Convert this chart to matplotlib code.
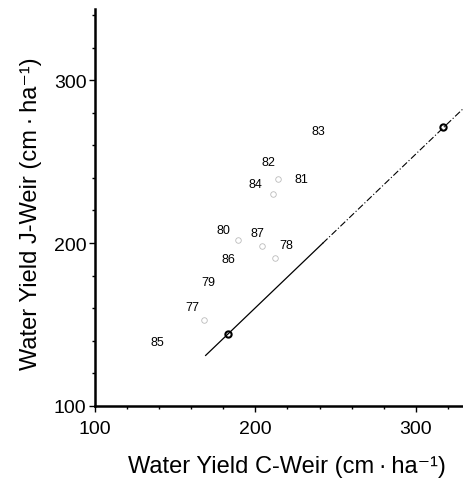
"""water yield J-Weir vs C-Weir, labelled by year"""

import matplotlib as mpl
mpl.use('Agg')
import matplotlib.pyplot as plt
from matplotlib.ticker import MultipleLocator

plt.rcParams['font.family'] = ['Liberation Sans', 'DejaVu Sans']

# year labels and where they sit (C-Weir, J-Weir)
years = ['83', '82', '81', '84', '80', '87', '78', '86', '79', '77', '85']
year_x = [239, 208, 229, 200, 180, 201, 219, 183, 171, 161, 139]
year_y = [269, 250, 239, 236, 208, 206, 199, 190, 176, 161, 139]

# faint observed points still visible in the print
pt_x = [214, 211, 189, 204, 212, 168]
pt_y = [239, 230, 202, 198, 191, 153]

# fitted line (solid part, then broken part) and its two marked points
line_x = [169, 242, 329]
line_y = [131, 266, 282]
line_y[1] = 131 + (242 - 169) * (282 - 131) / (329 - 169)
mark_x = [183, 317]
mark_y = [144, 271]


def main():
    fig = plt.figure(figsize=(4.63, 4.81), dpi=100)
    ax = fig.add_axes([0.205, 0.154, 0.795, 0.825])

    ax.plot(line_x[:2], line_y[:2], color='black', lw=0.9)
    ax.plot(line_x[1:], line_y[1:], color='black', lw=0.8, ls=(0, (6, 2, 1, 2)))
    ax.plot(mark_x, mark_y, 'o', ms=4.5, mfc='none', mec='black', mew=1.5)
    ax.plot(pt_x, pt_y, 'o', ms=4, mfc='none', mec='#bbbbbb', mew=0.6)

    for lab, x, y in zip(years, year_x, year_y):
        ax.text(x, y, lab, fontsize=9, ha='center', va='center')

    ax.set_xlim(100, 329.4)
    ax.set_ylim(100, 343.6)
    ax.xaxis.set_major_locator(MultipleLocator(100))
    ax.yaxis.set_major_locator(MultipleLocator(100))
    ax.xaxis.set_minor_locator(MultipleLocator(20))
    ax.yaxis.set_minor_locator(MultipleLocator(20))

    for s in ['top', 'right']:
        ax.spines[s].set_visible(False)
    for s in ['left', 'bottom']:
        ax.spines[s].set_linewidth(1.8)

    ax.tick_params(which='both', direction='out', labelsize=14)
    ax.tick_params(axis='y', pad=2)
    ax.tick_params(axis='x', pad=6)
    ax.tick_params(which='major', length=4, width=1)
    ax.tick_params(which='minor', length=2.5, width=1)

    ax.set_xlabel('Water Yield C-Weir (cm\u2009·\u2009ha\u207b\u00b9)', fontsize=17)
    ax.set_ylabel('Water Yield J-Weir (cm\u2009·\u2009ha\u207b\u00b9)', fontsize=17)
    ax.xaxis.set_label_coords(0.522, -0.123)
    ax.yaxis.set_label_coords(-0.144, 0.486)

    fig.savefig('out.png', dpi=100)


if __name__ == '__main__':
    main()
